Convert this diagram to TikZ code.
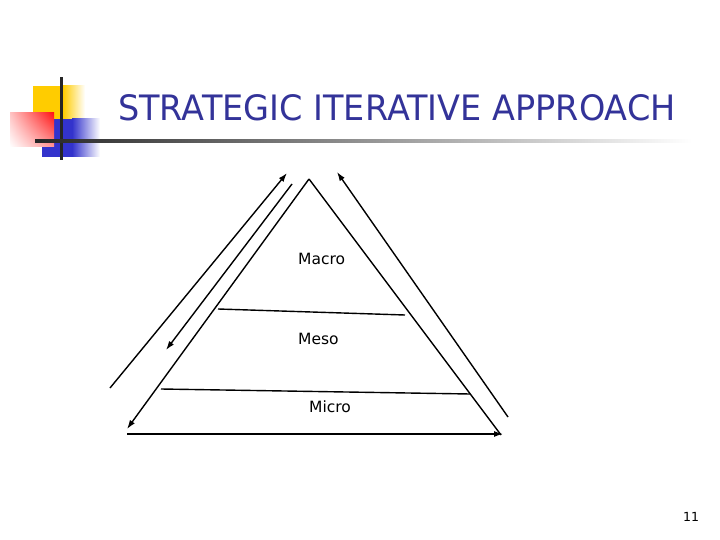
\documentclass[tikz,border=0pt]{standalone}
\usepackage{fontspec}
\setmainfont{DejaVu Sans}
\usetikzlibrary{arrows.meta,shadings}
\definecolor{titleblue}{RGB}{51,51,153}
\definecolor{decoyellow}{RGB}{255,204,0}
\definecolor{decoblue}{RGB}{51,51,204}
\definecolor{decored}{RGB}{255,20,20}
\tikzset{
  line/.style={line width=1.4pt, black},
  tip/.style={-{Latex[length=9pt,width=6pt]}},
  lbl/.style={anchor=base west, inner sep=0pt, font=\fontsize{15.5}{18}\selectfont},
}
\begin{document}
\begin{tikzpicture}[x=1pt,y=-1pt]
\useasboundingbox (0,0) rectangle (720,540);
\fill[white] (0,0) rectangle (720,540);
% decoration
\fill[decoyellow] (33,86) rectangle (63,119);
\shade[left color=decoyellow, right color=white] (63,86) rectangle (85,119);
\fill[decoblue] (42,119) rectangle (72,157);
\shade[left color=decoblue, right color=white] (72,119) rectangle (100,157);
\shade[upper right=decored, upper left=decored!25, lower right=decored!45, lower left=white] (10,113) rectangle (54,147);
\fill[black!85] (60,77) rectangle (62.5,160);
\shade[left color=black!85, right color=white] (35,139.7) rectangle (692,142.5);
% title
\node[anchor=base west, inner sep=0pt, text=titleblue, font=\fontsize{35}{40}\selectfont] (title) at (118,121) {\scalebox{0.957}[1]{STRATEGIC ITERATIVE APPROACH}};
% pyramid coordinates
\coordinate (apex) at (309,179);
\coordinate (bl) at (127,429);
\coordinate (br) at (501,435);
\coordinate (bot0) at (127,434);
\coordinate (bot1) at (503,434);
\coordinate (d1a) at (218,309);
\coordinate (d1b) at (405,315);
\coordinate (d2a) at (161,389);
\coordinate (d2b) at (470,394);
\coordinate (o1s) at (110,388);
\coordinate (o1e) at (287,173);
\coordinate (o2s) at (292,184);
\coordinate (o2e) at (166,350);
\coordinate (o3s) at (508,417);
\coordinate (o3e) at (337,172);
% lines
\draw[line, tip] (apex) -- (bl);
\draw[line] (apex) -- (br);
\draw[line, tip] (bot0) -- (bot1);
\draw[line] (d1a) -- (d1b);
\draw[line] (d2a) -- (d2b);
\draw[line, tip] (o1s) -- (o1e);
\draw[line, tip] (o2s) -- (o2e);
\draw[line, tip] (o3s) -- (o3e);
% labels
\node[lbl] (macro) at (298,264) {Macro};
\node[lbl] (meso) at (298,344) {Meso};
\node[lbl] (micro) at (309,412) {Micro};
\node[anchor=base west, inner sep=0pt, font=\fontsize{12.5}{15}\selectfont] (pnum) at (683,521) {11};
\end{tikzpicture}
\end{document}
